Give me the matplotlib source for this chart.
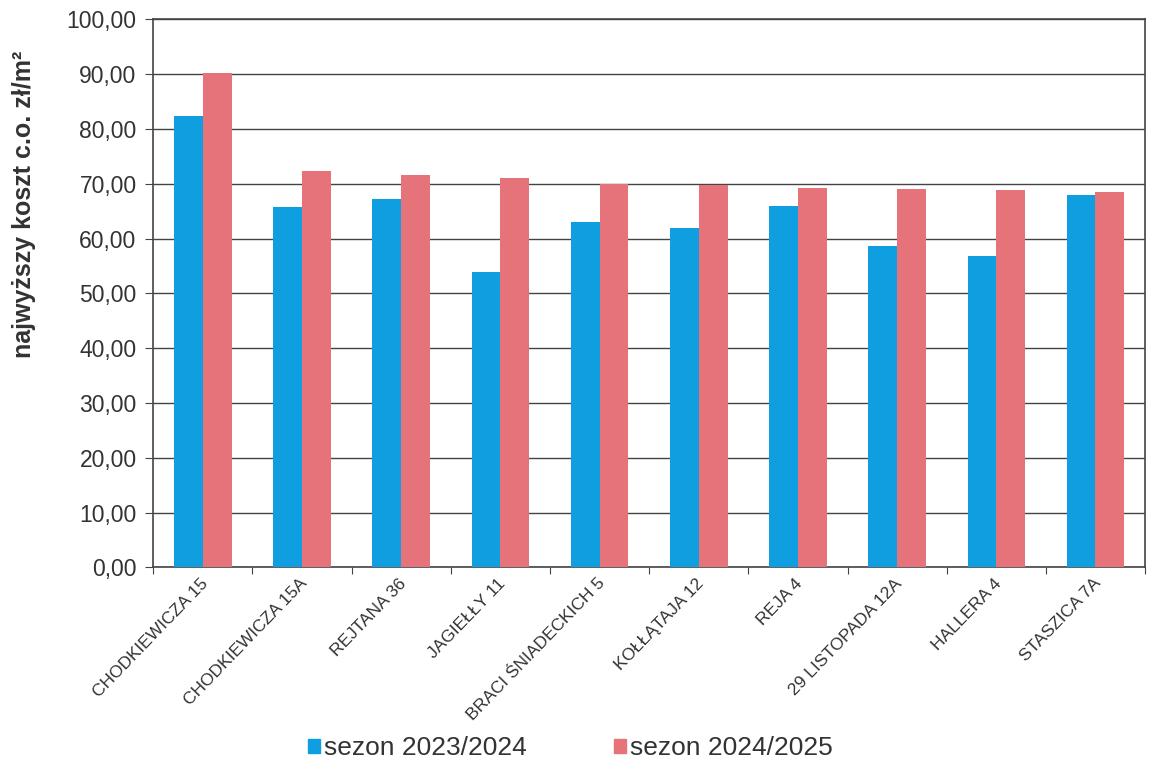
import matplotlib.pyplot as plt
import numpy as np
from matplotlib.patches import Rectangle

# data
buildings = ["CHODKIEWICZA 15", "CHODKIEWICZA 15A", "REJTANA 36", "JAGIEŁŁY 11",
             "BRACI ŚNIADECKICH 5", "KOŁŁĄTAJA 12", "REJA 4", "29 LISTOPADA 12A",
             "HALLERA 4", "STASZICA 7A"]
season_2324 = [82.4, 65.8, 67.3, 53.9, 63.1, 62.0, 65.9, 58.6, 56.8, 67.9]
season_2425 = [90.2, 72.4, 71.6, 71.0, 69.9, 69.7, 69.3, 69.1, 68.9, 68.5]
series_names = ["sezon 2023/2024", "sezon 2024/2025"]
yticks = np.arange(0, 101, 10)

blue = "#0f9fe0"
red = "#e6737a"
txt = "#333333"

plt.rcParams['font.family'] = ['Liberation Sans', 'DejaVu Sans']

fig = plt.figure(figsize=(11.52, 7.73), dpi=100)
ax = fig.add_axes([0.133, 0.266, 0.861, 0.709])

x = np.arange(len(buildings))
w = 0.29
ax.bar(x - w / 2, season_2324, w, color=blue, zorder=3)
ax.bar(x + w / 2, season_2425, w, color=red, zorder=3)

ax.set_xlim(-0.5, len(buildings) - 0.5)
ax.set_ylim(0, 100)
ax.set_yticks(yticks)
ax.set_yticklabels([f"{v:.2f}".replace(".", ",") for v in yticks],
                   fontsize=16.5, color=txt)
ax.yaxis.grid(True, color="#444444", linewidth=1, zorder=0)

# category ticks sit between the groups, labels under group centres
ax.set_xticks(np.arange(len(buildings) + 1) - 0.5)
ax.set_xticklabels([])
ax.set_xticks(x - 0.03, minor=True)
ax.set_xticklabels(buildings, minor=True, rotation=46, ha="right",
                   rotation_mode="anchor", fontsize=12.5, color=txt)
ax.tick_params(axis="x", which="minor", length=0, pad=6)
ax.tick_params(axis="x", which="major", length=5, direction="out", color="#444444")
ax.tick_params(axis="y", length=6, direction="out", color="#444444", pad=6)

for s in ax.spines.values():
    s.set_color("#444444")
    s.set_linewidth(1.2)

fig.text(0.021, 0.735, "najwyższy koszt c.o. zł/m²", rotation=90, ha="center",
         va="center", fontsize=18, fontweight="bold", color=txt)

handles = [Rectangle((0, 0), 1, 1, color=blue), Rectangle((0, 0), 1, 1, color=red)]
fig.legend(handles, series_names, loc="center", bbox_to_anchor=(0.495, 0.032),
           ncol=2, frameon=False, fontsize=19, handlelength=0.45, handleheight=0.45,
           handletextpad=0.15, columnspacing=3.3, labelcolor=txt)

fig.savefig("out.png", dpi=100)
